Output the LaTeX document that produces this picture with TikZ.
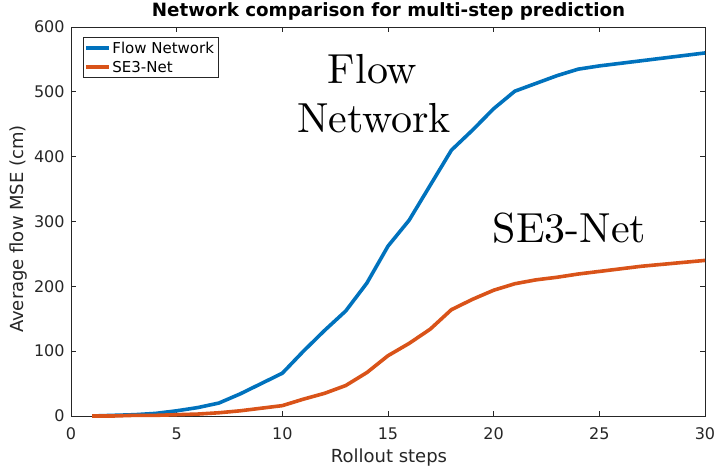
\documentclass[tikz,border=0pt]{standalone}
\usepackage{fontspec}
\newfontfamily\plotfont{DejaVu Sans}
\newfontfamily\annfont{lmroman10-regular}[Extension=.otf]
\usetikzlibrary{positioning}
\definecolor{flowblue}{RGB}{0,114,189}
\definecolor{seorange}{RGB}{217,83,25}
\definecolor{axgray}{RGB}{38,38,38}

\begin{document}
\begin{tikzpicture}[x=1pt,y=1pt,line width=0.8pt,
	flowline/.style={flowblue,line width=3.6pt,line join=round},
	seline/.style={seorange,line width=3.6pt,line join=round},
	ticklab/.style={text=axgray,inner sep=0pt,font=\plotfont\fontsize{16}{18}\selectfont},
	axlab/.style={text=axgray,inner sep=0pt,font=\plotfont\fontsize{18}{20}\selectfont},
	leglab/.style={text=black,inner sep=0pt,font=\plotfont\fontsize{15}{17}\selectfont},
	bigtxt/.style={inner sep=0pt,font=\annfont\fontsize{42}{49}\selectfont}]
\useasboundingbox (0,0) rectangle (715,466);

\begin{scope}[shift={(71,50)},x=21.133pt,y=0.6483pt]
\coordinate (o) at (0,0);
\coordinate (tr) at (30,600);

%x ticks
\foreach \i in {0,5,...,30}{
	\draw[axgray] (\i,0)--++(0,5pt);
	\draw[axgray] (\i,600)--++(0,-5pt);
	\node[ticklab,below=11pt] (xl\i) at (\i,0) {\i};
}
%y ticks
\foreach \j in {0,100,...,600}{
	\draw[axgray] (0,\j)--++(5pt,0);
	\draw[axgray] (30,\j)--++(-5pt,0);
	\node[ticklab,left=6pt] (yl\j) at (0,\j) {\j};
}
\draw[axgray] (o) rectangle (tr);

%flow network
\draw[flowline] plot coordinates {(1,0) (2,1) (3,2) (4,4) (5,8) (6,13) (7,20) (8,34) (9,50) (10,66) (11,100) (12,132) (13,162) (14,205) (15,262) (16,302) (17,356) (18,410) (19,441) (20,474) (21,501) (22,513) (23,525) (24,535) (25,540) (26,544) (27,548) (28,552) (29,556) (30,560)};
%se3-net
\draw[seline] plot coordinates {(1,0) (2,0) (3,1) (4,1) (5,2) (6,3) (7,5) (8,8) (9,12) (10,16) (11,26) (12,35) (13,47) (14,67) (15,93) (16,112) (17,134) (18,164) (19,180) (20,194) (21,204) (22,210) (23,214) (24,219) (25,223) (26,227) (27,231) (28,234) (29,237) (30,240)};

\node[bigtxt,anchor=base] (flowA) at (14.27,513.6) {Flow};
\node[bigtxt,anchor=base] (flowB) at (14.34,438) {Network};
\node[bigtxt,anchor=base] (setxt) at (23.59,267) {SE3-Net};
\end{scope}

%legend
\node[draw=axgray,fill=white,minimum width=135,minimum height=40,inner sep=0pt] (legbox) at (150.5,409) {};
\coordinate (lf1) at (86,418);
\coordinate (lf2) at (109,418);
\coordinate (ls1) at (86,399);
\coordinate (ls2) at (109,399);
\draw[flowline] (lf1)--(lf2);
\draw[seline] (ls1)--(ls2);
\node[leglab,right=3pt of lf2] (legflow) {Flow Network};
\node[leglab,right=3pt of ls2] (legse) {SE3-Net};

%title and labels
\node[anchor=base,inner sep=0pt,font=\plotfont\bfseries\fontsize{18.3}{20}\selectfont] (title) at (388.5,449) {Network comparison for multi-step prediction};
\node[axlab,anchor=base] (xlab) at (389,4) {Rollout steps};
\node[axlab,rotate=90] (ylab) at (18.5,237) {Average flow MSE (cm)};
\end{tikzpicture}
\end{document}
